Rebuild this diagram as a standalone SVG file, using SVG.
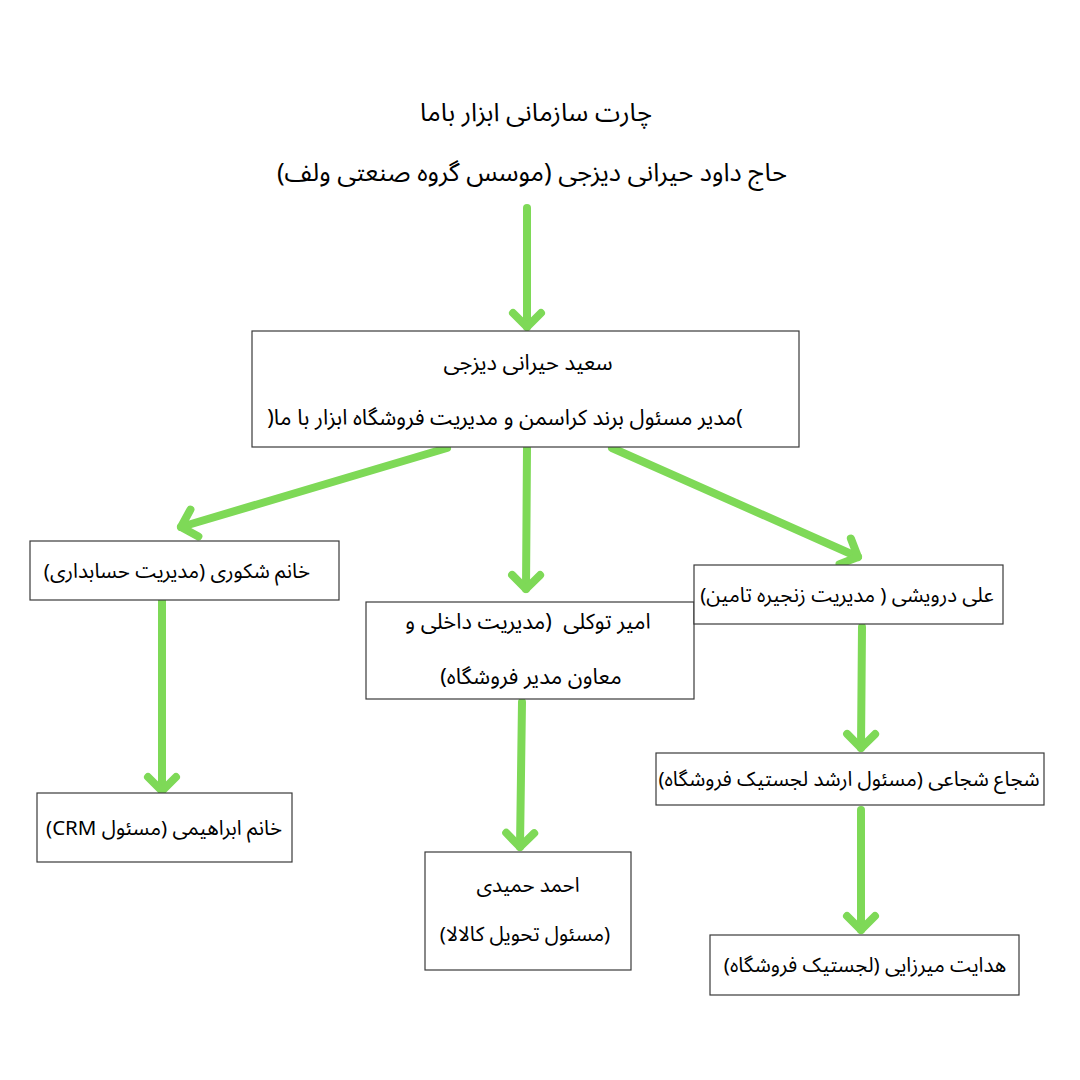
<svg xmlns="http://www.w3.org/2000/svg" width="1080" height="1080" viewBox="0 0 1080 1080">
<defs>
<style>
.box{fill:#ffffff;stroke:#3a3a3a;stroke-width:1.2}
.t{font-family:"Noto Sans Arabic","Noto Sans","DejaVu Sans",sans-serif;font-size:20.5px;fill:#000000;text-anchor:middle;direction:rtl;unicode-bidi:embed;white-space:pre}
.title{font-size:25.5px}
.big{font-size:21.8px}
.conn{stroke:#7ED957;stroke-width:8;stroke-linecap:round;fill:none}
</style>
<marker id="chev" markerUnits="userSpaceOnUse" viewBox="-24 -24 48 48" markerWidth="48" markerHeight="48" refX="0" refY="0" orient="auto" overflow="visible">
<path d="M-14,-14 L0,0 L-14,14" fill="none" stroke="#7ED957" stroke-width="8" stroke-linecap="round" stroke-linejoin="round"/>
</marker>
</defs>
<rect width="1080" height="1080" fill="#ffffff"/>

<g id="title">
<text class="t title" x="536" y="121" direction="rtl">چارت سازمانی ابزار باما</text>
<text class="t title" x="532" y="181" direction="rtl">حاج داود حیرانی دیزجی (موسس گروه صنعتی ولف)</text>
</g>

<g id="connectors">
<line class="conn" x1="527" y1="208" x2="527" y2="327" marker-end="url(#chev)"/>
<line class="conn" x1="447" y1="448" x2="181" y2="527" marker-end="url(#chev)"/>
<line class="conn" x1="527" y1="448" x2="526" y2="589" marker-end="url(#chev)"/>
<line class="conn" x1="612" y1="448" x2="858" y2="557" marker-end="url(#chev)"/>
<line class="conn" x1="162" y1="594" x2="162" y2="791" marker-end="url(#chev)"/>
<line class="conn" x1="522" y1="702" x2="520" y2="847" marker-end="url(#chev)"/>
<line class="conn" x1="862" y1="627" x2="861" y2="748" marker-end="url(#chev)"/>
<line class="conn" x1="861" y1="810" x2="861" y2="930" marker-end="url(#chev)"/>
</g>

<g id="node-saeed">
<rect class="box" x="252" y="331" width="547" height="116"/>
<text class="t big" x="528" y="370" direction="rtl">سعید حیرانی دیزجی</text>
<text class="t big" x="505" y="425" direction="rtl">)مدیر مسئول برند کراسمن و مدیریت فروشگاه ابزار با ما(</text>
</g>

<g id="node-shokoori">
<rect class="box" x="30" y="541" width="309" height="59"/>
<text class="t" x="177" y="578" direction="rtl">خانم شکوری (مدیریت حسابداری)</text>
</g>

<g id="node-tavakoli">
<rect class="box" x="366" y="602" width="328" height="97"/>
<text class="t big" x="528" y="629" direction="rtl">امیر توکلی  (مدیریت داخلی و</text>
<text class="t big" x="531" y="684" direction="rtl">معاون مدیر فروشگاه)</text>
</g>

<g id="node-darvishi">
<rect class="box" x="694" y="565" width="309" height="59"/>
<text class="t" x="847" y="602" direction="rtl">علی درویشی ( مدیریت زنجیره تامین)</text>
</g>

<g id="node-ebrahimi">
<rect class="box" x="37" y="793" width="255" height="69"/>
<text class="t" x="164" y="835" direction="rtl">خانم ابراهیمی (مسئول CRM)</text>
</g>

<g id="node-hamidi">
<rect class="box" x="425" y="852" width="206" height="118"/>
<text class="t" x="528" y="892" direction="rtl">احمد حمیدی</text>
<text class="t" x="525" y="941" direction="rtl">(مسئول تحویل کالالا)</text>
</g>

<g id="node-shoja">
<rect class="box" x="656" y="753" width="388" height="52"/>
<text class="t" x="849" y="786" direction="rtl">شجاع شجاعی (مسئول ارشد لجستیک فروشگاه)</text>
</g>

<g id="node-mirzaei">
<rect class="box" x="710" y="935" width="309" height="60"/>
<text class="t" x="865" y="972" direction="rtl">هدایت میرزایی (لجستیک فروشگاه)</text>
</g>
</svg>
